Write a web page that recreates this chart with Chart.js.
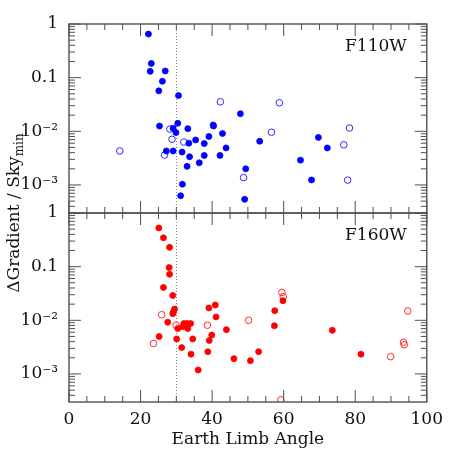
<!DOCTYPE html>
<html>
<head>
<meta charset="utf-8">
<script src="https://cdn.jsdelivr.net/npm/chart.js@4.4.1/dist/chart.umd.min.js"></script>
<style>
  html, body { margin: 0; padding: 0; background: #fff; }
  #wrap { width: 450px; height: 450px; }
</style>
</head>
<body>
<div id="wrap"><canvas id="limbChart"></canvas></div>
<script>
// F110W panel (top)
const f110FilledX = [22.2, 23.0, 22.7, 26.9, 26.1, 25.1, 30.6, 25.3, 30.4, 29.1, 29.9, 33.2, 40.3, 40.4, 47.9, 42.9, 39.1, 35.4, 33.5, 37.8, 27.2, 29.1, 31.6, 43.9, 33.7, 37.8, 42.2, 36.4, 33.0, 49.4, 31.7, 31.2, 49.1, 53.3, 69.7, 72.2, 64.7, 67.8];
const f110FilledY = [0.65, 0.184, 0.131, 0.133, 0.0855, 0.0567, 0.0464, 0.0125, 0.0141, 0.0114, 0.00945, 0.0112, 0.0131, 0.0125, 0.0213, 0.0091, 0.0080, 0.0069, 0.0060, 0.0059, 0.0043, 0.0043, 0.0041, 0.0049, 0.00335, 0.00355, 0.00355, 0.00259, 0.00222, 0.0020, 0.00103, 0.00063, 0.00054, 0.00653, 0.0077, 0.0049, 0.0029, 0.00124];
const f110OpenX = [14.2, 28.2, 28.8, 32.1, 26.7, 42.3, 48.8, 58.8, 56.6, 78.4, 76.8, 77.9];
const f110OpenY = [0.0043, 0.0110, 0.0071, 0.0063, 0.0036, 0.0355, 0.00137, 0.034, 0.0096, 0.0115, 0.0056, 0.00123];

// F160W panel (bottom)
const f160FilledX = [25.1, 26.4, 28.1, 28.0, 28.1, 26.4, 29.0, 29.5, 29.2, 29.0, 39.1, 40.9, 41.1, 27.6, 32.1, 33.0, 34.0, 30.4, 31.8, 33.2, 44.0, 39.9, 25.2, 30.1, 34.6, 39.2, 31.5, 38.8, 34.1, 46.1, 50.7, 53.0, 36.1, 59.8, 57.5, 57.4, 73.6, 81.6];
const f160FilledY = [0.527, 0.344, 0.229, 0.096, 0.072, 0.0409, 0.029, 0.0162, 0.0143, 0.0133, 0.0170, 0.0193, 0.01156, 0.0092, 0.0087, 0.0087, 0.0087, 0.0070, 0.0076, 0.0070, 0.0067, 0.0053, 0.0050, 0.0045, 0.0045, 0.0042, 0.0031, 0.0026, 0.00234, 0.00193, 0.00177, 0.0026, 0.00119, 0.0232, 0.0151, 0.0079, 0.0065, 0.00234];
const f160OpenX = [23.6, 25.9, 29.9, 38.7, 50.2, 59.5, 59.9, 94.7, 93.5, 93.7, 89.9, 59.2];
const f160OpenY = [0.0037, 0.0127, 0.0081, 0.0081, 0.0100, 0.033, 0.0275, 0.0149, 0.0039, 0.0035, 0.0021, 0.00033];

const panelLabels = ['F110W', 'F160W'];
const cutAngle = 30;

const xMin = 0, xMax = 100;
const yMin = Math.pow(10, -3.5), yMax = 1;

const FONT = '"DejaVu Serif", "Liberation Serif", serif';

function pts(xs, ys) {
    return xs.map((x, i) => ({ x: x, y: ys[i] }));
}

function decadeLabel(v) {
    const l = Math.log10(v);
    const r = Math.round(l);
    if (Math.abs(l - r) > 1e-6) return '';
    if (r === 0) return '1';
    if (r === -1) return '0.1';
    if (r === -2) return '10\u207B\u00B2';
    if (r === -3) return '10\u207B\u00B3';
    return '';
}

// frame, inward ticks, cut line and panel names
const panelDecor = {
    id: 'panelDecor',
    beforeDatasetsDraw(chart) {
        const { ctx, scales } = chart;
        const px = scales.x.getPixelForValue(cutAngle);
        ctx.save();
        ctx.strokeStyle = '#8a8a8a';
        ctx.lineWidth = 1;
        ctx.setLineDash([1, 2]);
        ['yTop', 'yBot'].forEach(id => {
            const y = scales[id];
            ctx.beginPath();
            ctx.moveTo(Math.round(px) + 0.5, y.top);
            ctx.lineTo(Math.round(px) + 0.5, y.bottom);
            ctx.stroke();
        });
        ctx.restore();
    },
    afterDatasetsDraw(chart) {
        const { ctx, chartArea, scales } = chart;
        const x = scales.x;
        const l = chartArea.left, r = chartArea.right;
        ctx.save();
        ['yTop', 'yBot'].forEach((id, k) => {
            const y = scales[id];
            const top = y.top, bot = y.bottom;
            ctx.strokeStyle = '#505050';
            ctx.lineWidth = 1.4;
            ctx.strokeRect(l, top, r - l, bot - top);

            ctx.lineWidth = 1;
            ctx.beginPath();
            for (let v = xMin; v <= xMax; v += 5) {
                const p = x.getPixelForValue(v);
                const len = v % 20 === 0 ? 12 : 6;
                ctx.moveTo(p, top); ctx.lineTo(p, top + len);
                ctx.moveTo(p, bot); ctx.lineTo(p, bot - len);
            }
            for (let d = -4; d <= 0; d++) {
                for (let m = 1; m <= 9; m++) {
                    const v = m * Math.pow(10, d);
                    if (v < yMin || v > yMax * 1.0001) continue;
                    const p = y.getPixelForValue(v);
                    const len = m === 1 ? 12 : 6;
                    ctx.moveTo(l, p); ctx.lineTo(l + len, p);
                    ctx.moveTo(r, p); ctx.lineTo(r - len, p);
                }
            }
            ctx.stroke();

            ctx.fillStyle = '#111';
            ctx.font = '17px ' + FONT;
            ctx.textAlign = 'right';
            ctx.textBaseline = 'alphabetic';
            ctx.fillText(panelLabels[k], r - 20, top + 27);
        });

        // y axis title with subscript
        const main = '\u0394Gradient / Sky';
        const sub = 'min';
        ctx.font = '17px ' + FONT;
        const w1 = ctx.measureText(main).width;
        ctx.font = '12px ' + FONT;
        const w2 = ctx.measureText(sub).width;
        const total = w1 + w2;
        const cy = (scales.yTop.top + scales.yBot.bottom) / 2;
        ctx.translate(19, cy);
        ctx.rotate(-Math.PI / 2);
        ctx.textAlign = 'left';
        ctx.fillStyle = '#111';
        ctx.font = '17px ' + FONT;
        ctx.fillText(main, -total / 2, 0);
        ctx.font = '12px ' + FONT;
        ctx.fillText(sub, -total / 2 + w1, 4);
        ctx.restore();
    }
};

const blue = '#0000ff', red = '#ff0000';

const yCommon = {
    type: 'logarithmic',
    position: 'left',
    stack: 'panels',
    stackWeight: 1,
    min: yMin,
    max: yMax,
    grid: { display: false, drawTicks: false },
    border: { display: false },
    afterFit: s => { s.width = 69; },
    ticks: {
        autoSkip: false,
        padding: 11,
        color: '#111',
        font: { family: FONT, size: 17 },
        callback: v => decadeLabel(v)
    }
};

new Chart(document.getElementById('limbChart'), {
    type: 'scatter',
    data: {
        datasets: [
            {
                label: 'F110W filled',
                data: pts(f110FilledX, f110FilledY),
                yAxisID: 'yTop',
                backgroundColor: blue, borderColor: blue,
                pointRadius: 3, borderWidth: 0.8, clip: 0
            },
            {
                label: 'F110W open',
                data: pts(f110OpenX, f110OpenY),
                yAxisID: 'yTop',
                backgroundColor: 'rgba(0,0,0,0)', borderColor: '#2a2aff',
                pointRadius: 3.3, borderWidth: 1, clip: 0
            },
            {
                label: 'F160W filled',
                data: pts(f160FilledX, f160FilledY),
                yAxisID: 'yBot',
                backgroundColor: red, borderColor: red,
                pointRadius: 3, borderWidth: 0.8, clip: 0
            },
            {
                label: 'F160W open',
                data: pts(f160OpenX, f160OpenY),
                yAxisID: 'yBot',
                backgroundColor: 'rgba(0,0,0,0)', borderColor: '#ff2a2a',
                pointRadius: 3.3, borderWidth: 1, clip: 0
            }
        ]
    },
    plugins: [panelDecor],
    options: {
        responsive: true,
        maintainAspectRatio: false,
        animation: false,
        layout: { padding: { top: 24, right: 23, left: 0, bottom: 0 } },
        scales: {
            x: {
                type: 'linear',
                position: 'bottom',
                min: xMin,
                max: xMax,
                grid: { display: false, drawTicks: false },
                border: { display: false },
                afterFit: s => { s.height = 48; },
                ticks: {
                    stepSize: 20,
                    padding: 7,
                    color: '#111',
                    font: { family: FONT, size: 17 }
                },
                title: {
                    display: true,
                    text: 'Earth Limb Angle',
                    color: '#111',
                    padding: { top: 0, bottom: 0 },
                    font: { family: FONT, size: 17 }
                }
            },
            yTop: Object.assign({}, yCommon, { weight: 1 }),
            yBot: Object.assign({}, yCommon, { weight: 0 })
        },
        plugins: {
            legend: { display: false },
            tooltip: { enabled: false }
        }
    }
});
</script>
</body>
</html>
